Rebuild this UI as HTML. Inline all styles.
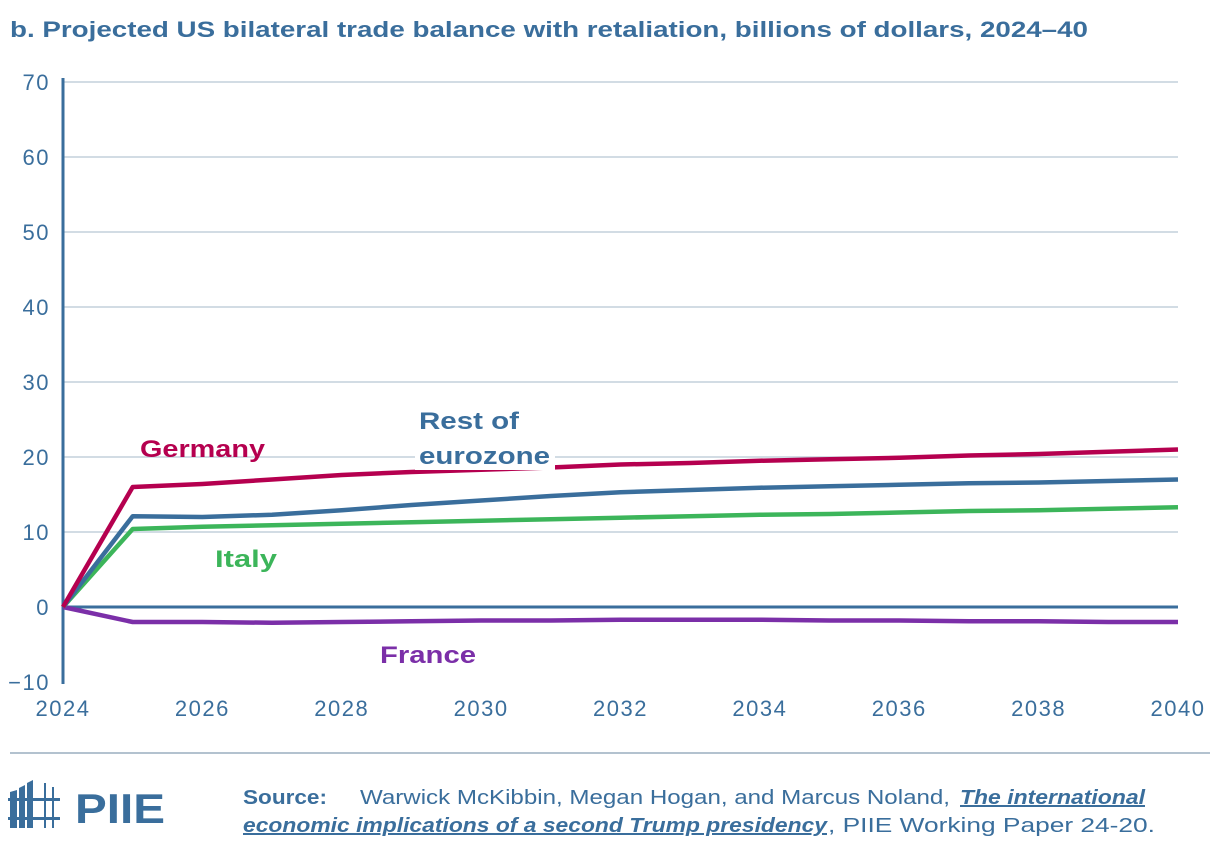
<!DOCTYPE html>
<html><head><meta charset="utf-8"><style>
body{margin:0;background:#fff;width:1220px;height:852px;overflow:hidden;font-family:"Liberation Sans",sans-serif}
</style></head><body>
<svg width="1220" height="852" xmlns="http://www.w3.org/2000/svg">
<text x="10" y="37" font-size="22" font-weight="bold" fill="#3a6e9c" textLength="1078" lengthAdjust="spacingAndGlyphs">b. Projected US bilateral trade balance with retaliation, billions of dollars, 2024–40</text>
<g id="grid"></g>
<g id="yt" font-size="22" fill="#3a6e9c" text-anchor="end"></g>
<g id="xt" font-size="22" fill="#3a6e9c" text-anchor="middle" letter-spacing="1.5"></g>
<line x1="63" y1="78" x2="63" y2="684" stroke="#3a6e9c" stroke-width="3"/>
<g id="series"></g>
<text x="140" y="457" font-size="24" font-weight="bold" fill="#b5004f" textLength="125" lengthAdjust="spacingAndGlyphs">Germany</text>
<text x="419" y="429" font-size="24" font-weight="bold" fill="#3a6e9c" textLength="100" lengthAdjust="spacingAndGlyphs">Rest of</text>
<rect x="415" y="442" width="140" height="28" fill="#fff"/>
<text x="419" y="464" font-size="24" font-weight="bold" fill="#3a6e9c" textLength="131" lengthAdjust="spacingAndGlyphs">eurozone</text>
<text x="215" y="567" font-size="24" font-weight="bold" fill="#3cb55a" textLength="62" lengthAdjust="spacingAndGlyphs">Italy</text>
<text x="380" y="663" font-size="24" font-weight="bold" fill="#7b2fa8" textLength="96" lengthAdjust="spacingAndGlyphs">France</text>
<line x1="10" y1="753" x2="1210" y2="753" stroke="#9aaebf" stroke-width="1.5"/>
<g fill="#3a6e9c">
<polygon points="10,792 17,790 17,828 10,828"/><polygon points="19,788 25,785 25,828 19,828"/><polygon points="27,783 33,780 33,828 27,828"/>
<rect x="8" y="798" width="52" height="3"/><rect x="8" y="817" width="52" height="3"/>
<rect x="44" y="783" width="2" height="45"/><rect x="52" y="787" width="2" height="41"/>
<text x="75" y="823" font-size="42" font-weight="bold" textLength="90" lengthAdjust="spacingAndGlyphs">PIIE</text>
</g>
<g fill="#3a6e9c" font-size="20">
<text x="243" y="804" font-weight="bold" textLength="84" lengthAdjust="spacingAndGlyphs">Source:</text>
<text x="360" y="804" textLength="590" lengthAdjust="spacingAndGlyphs">Warwick McKibbin, Megan Hogan, and Marcus Noland,</text>
<text x="960" y="804" font-weight="bold" font-style="italic" text-decoration="underline" textLength="185" lengthAdjust="spacingAndGlyphs">The international</text>
<text x="243" y="832" font-weight="bold" font-style="italic" text-decoration="underline" textLength="584" lengthAdjust="spacingAndGlyphs">economic implications of a second Trump presidency</text>
<text x="828" y="832" textLength="327" lengthAdjust="spacingAndGlyphs">, PIIE Working Paper 24-20.</text>
</g>
</svg>
<script>
const years=[2024,2025,2026,2027,2028,2029,2030,2031,2032,2033,2034,2035,2036,2037,2038,2039,2040];
const germany=[0,16,16.4,17,17.6,18,18.3,18.6,19,19.2,19.5,19.7,19.9,20.2,20.4,20.7,21];
const restEurozone=[0,12.1,12,12.3,12.9,13.6,14.2,14.8,15.3,15.6,15.9,16.1,16.3,16.5,16.6,16.8,17];
const italy=[0,10.4,10.7,10.9,11.1,11.3,11.5,11.7,11.9,12.1,12.3,12.4,12.6,12.8,12.9,13.1,13.3];
const france=[0,-2,-2,-2.1,-2,-1.9,-1.8,-1.8,-1.7,-1.7,-1.7,-1.8,-1.8,-1.9,-1.9,-2,-2];
const yTicks=[-10,0,10,20,30,40,50,60,70];
const xTicks=[2024,2026,2028,2030,2032,2034,2036,2038,2040];
const NS="http://www.w3.org/2000/svg";
const xs=v=>63+(v-2024)*(1178-63)/16;
const ys=v=>607-v*7.5;
const grid=document.getElementById('grid'),yt=document.getElementById('yt'),xt=document.getElementById('xt'),ser=document.getElementById('series');
yTicks.forEach(t=>{
 if(t>0){const l=document.createElementNS(NS,'line');
 
 
 l.setAttribute('x1',63);l.setAttribute('x2',1178);l.setAttribute('y1',ys(t));l.setAttribute('y2',ys(t));
 l.setAttribute('stroke','#b7c6d4');l.setAttribute('stroke-width','1.3');grid.appendChild(l);}
 const tx=document.createElementNS(NS,'text');
 
 
 tx.setAttribute('x',50);tx.setAttribute('y',ys(t)+8);tx.setAttribute('letter-spacing','1.5');tx.textContent=t<0?'−'+(-t):t;yt.appendChild(tx);
});
xTicks.forEach(t=>{
 const tx=document.createElementNS(NS,'text');
 
 
 tx.setAttribute('x',xs(t));tx.setAttribute('y',716);tx.textContent=t;xt.appendChild(tx);
});
const zl=document.createElementNS(NS,'line');


zl.setAttribute('x1',63);zl.setAttribute('x2',1178);zl.setAttribute('y1',ys(0));zl.setAttribute('y2',ys(0));
zl.setAttribute('stroke','#3a6e9c');zl.setAttribute('stroke-width','3');ser.appendChild(zl);
function line(data,color,name){
 const p=document.createElementNS(NS,'polyline');
 
 
 p.setAttribute('points',data.map((v,i)=>xs(years[i])+','+ys(v)).join(' '));
 p.setAttribute('fill','none');p.setAttribute('stroke',color);p.setAttribute('stroke-width','4.5');p.setAttribute('stroke-linejoin','round');
 ser.appendChild(p);
}
line(france,'#7b2fa8','series-france');
line(italy,'#3cb55a','series-italy');
line(restEurozone,'#3a6e9c','series-rest-of-eurozone');
line(germany,'#b5004f','series-germany');
</script>
</body></html>
